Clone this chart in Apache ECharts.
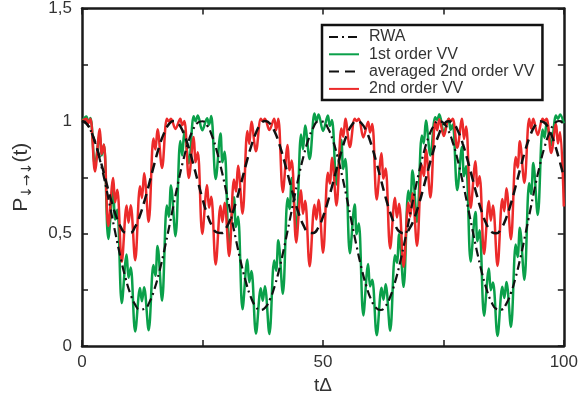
<!DOCTYPE html>
<html>
<head>
<meta charset="utf-8">
<script src="https://cdn.jsdelivr.net/npm/echarts@6/dist/echarts.min.js"></script>
<style>
html,body{margin:0;padding:0;background:#fff;}
#chart{width:581px;height:405px;}
</style>
</head>
<body>
<div id="chart"></div>
<script>
// smooth curves sampled at integer tΔ
var tGrid = [0,1,2,3,4,5,6,7,8,9,10,11,12,13,14,15,16,17,18,19,20,21,22,23,24,25,26,27,28,29,30,31,32,33,34,35,36,37,38,39,40,41,42,43,44,45,46,47,48,49,50,51,52,53,54,55,56,57,58,59,60,61,62,63,64,65,66,67,68,69,70,71,72,73,74,75,76,77,78,79,80,81,82,83,84,85,86,87,88,89,90,91,92,93,94,95,96,97,98,99,100];
var yRWA = [1.000,.987,.947,.884,.801,.705,.600,.494,.393,.305,.234,.185,.162,.165,.195,.250,.326,.418,.520,.627,.730,.824,.902,.959,.992,.999,.979,.933,.865,.778,.679,.573,.468,.370,.286,.220,.177,.160,.170,.207,.267,.347,.443,.547,.653,.755,.845,.918,.970,.997,.997,.970,.918,.845,.755,.653,.547,.443,.347,.267,.207,.170,.160,.177,.220,.286,.370,.468,.573,.679,.778,.865,.933,.979,.999,.992,.959,.902,.824,.730,.627,.520,.418,.326,.250,.195,.165,.162,.185,.234,.305,.393,.494,.600,.705,.801,.884,.947,.987,1.000,.987];
var yAveraged2nd = [1.000,.987,.948,.887,.812,.730,.651,.582,.531,.504,.503,.529,.579,.647,.726,.808,.884,.945,.985,1.000,.988,.950,.891,.816,.735,.655,.585,.533,.505,.502,.527,.576,.643,.722,.804,.880,.942,.984,1.000,.989,.952,.894,.820,.739,.658,.588,.535,.505,.502,.525,.573,.640,.718,.800,.877,.940,.982,1.000,.990,.955,.898,.824,.743,.662,.591,.537,.506,.501,.523,.570,.636,.714,.796,.873,.937,.981,.999,.991,.957,.901,.828,.747,.666,.594,.539,.507,.501,.522,.567,.632,.710,.792,.870,.934,.979,.999,.992,.959,.904,.832,.751];

// fast-oscillating curves sampled at their turning points
var tFast = [0,
0.9,1.3,1.75,
2.69,3.69,4.09,4.54,
5.47,6.47,6.87,7.32,
8.26,9.26,9.66,10.11,
11.04,12.04,12.44,12.89,
13.83,14.83,15.23,15.68,
16.61,17.61,18.01,18.46,
19.4,20.4,20.8,21.25,
22.18,23.18,23.58,24.03,
24.97,25.97,26.37,26.82,
27.75,28.75,29.15,29.6,
30.54,31.54,31.94,32.39,
33.32,34.32,34.72,35.17,
36.11,37.11,37.51,37.96,
38.89,39.89,40.29,40.74,
41.68,42.68,43.08,43.53,
44.46,45.46,45.86,46.31,
47.25,48.25,48.65,49.1,
50.03,51.03,51.43,51.88,
52.82,53.82,54.22,54.67,
55.6,56.6,57,57.45,
58.39,59.39,59.79,60.24,
61.17,62.17,62.57,63.02,
63.96,64.96,65.36,65.81,
66.74,67.74,68.14,68.59,
69.53,70.53,70.93,71.38,
72.31,73.31,73.71,74.16,
75.1,76.1,76.5,76.95,
77.88,78.88,79.28,79.73,
80.67,81.67,82.07,82.52,
83.45,84.45,84.85,85.3,
86.24,87.24,87.64,88.09,
89.02,90.02,90.42,90.87,
91.81,92.81,93.21,93.66,
94.59,95.59,95.99,96.44,
97.38,98.38,98.78,99.23,
100];
var yFirstOrder = [1.0,
1.02,.996,1.013,
.804,.939,.847,.894,
.476,.694,.562,.606,
.191,.407,.303,.349,
.064,.258,.199,.261,
.070,.360,.312,.445,
.202,.624,.575,.713,
.488,.911,.847,.955,
.812,1.021,.999,1.024,
.959,1.012,.983,1.022,
.742,.944,.817,.863,
.442,.661,.529,.574,
.163,.385,.283,.333,
.055,.257,.201,.266,
.053,.380,.335,.470,
.232,.657,.609,.747,
.520,.940,.874,.980,
.831,1.033,.999,1.029,
.956,1.024,.978,1.004,
.718,.916,.787,.831,
.412,.629,.497,.544,
.136,.364,.265,.294,
.048,.259,.206,.274,
.068,.403,.370,.497,
.263,.690,.642,.780,
.551,.936,.901,1.002,
.847,1.017,1.005,1.030,
.949,1.010,.960,.985,
.693,.885,.755,.799,
.376,.596,.466,.514,
.135,.345,.248,.282,
.045,.263,.213,.285,
.085,.451,.396,.526,
.294,.723,.676,.813,
.582,.962,.925,.992,
.892,1.024,1.009,1.029,
.99];
var ySecondOrder = [1.0,
1.01,.99,1.01,
.776,.964,.853,.896,
.533,.747,.639,.694,
.374,.624,.548,.626,
.381,.710,.657,.768,
.552,.922,.873,.963,
.791,1.01,.998,1.01,
.965,1.01,.982,1.0,
.747,.929,.817,.861,
.498,.715,.614,.663,
.362,.623,.551,.637,
.400,.740,.687,.801,
.588,.956,.898,.997,
.866,1.01,1.0,1.01,
.960,1.01,.959,1.01,
.684,.893,.781,.824,
.460,.692,.587,.646,
.354,.628,.562,.650,
.415,.770,.722,.837,
.625,.967,.930,1.01,
.885,1.01,1.0,1.01,
.927,.997,.949,.987,
.651,.857,.744,.789,
.433,.659,.571,.632,
.352,.637,.575,.679,
.445,.805,.756,.873,
.660,.997,.959,1.008,
.933,1.01,1.0,1.01,
.881,1.01,.920,.976,
.614,.821,.709,.755,
.409,.645,.557,.625,
.356,.653,.599,.701,
.474,.840,.793,.910,
.725,1.01,.967,1.01,
.938,1.01,1.0,1.01,
.858,.987,.900,.950,
.62];

var legendNames = ['RWA','1st order VV','averaged 2nd order VV','2nd order VV'];

function pairs(xs, ys){ return xs.map(function(x,i){ return [x, ys[i]]; }); }

var FONT = 'Liberation Sans';
var AX = '#1a1a1a';
var axisLine = {show:true, onZero:false, lineStyle:{color:AX, width:2.5}};
var axisTick = {show:true, inside:true, length:6, lineStyle:{color:AX, width:1.5}};

var chart = echarts.init(document.getElementById('chart'), null, {renderer:'canvas'});
chart.setOption({
  animation:false,
  backgroundColor:'#fff',
  textStyle:{fontFamily:FONT},
  grid:{left:82, right:16, top:8, bottom:59, containLabel:false},
  legend:{
    data:legendNames,
    orient:'vertical', left:322, top:25,
    itemWidth:30, itemHeight:13, itemGap:1.3,
    padding:[4,8,3,6],
    borderColor:'#111', borderWidth:2.5, backgroundColor:'#fff',
    itemStyle:{opacity:0, borderWidth:0},
    textStyle:{fontFamily:FONT, fontSize:16, color:'#333', padding:[0,0,0,5]}
  },
  xAxis:[
    {type:'value', min:0, max:100, interval:25, position:'bottom',
     axisLine:axisLine, axisTick:axisTick, splitLine:{show:false},
     axisLabel:{fontFamily:FONT, fontSize:17, color:'#333', margin:8,
       formatter:function(v){ return v % 50 === 0 ? String(v) : ''; }},
     name:'tΔ', nameLocation:'middle', nameGap:27,
     nameTextStyle:{fontFamily:FONT, fontSize:19, color:'#333'}},
    {type:'value', min:0, max:100, interval:25, position:'top',
     axisLine:axisLine, axisTick:axisTick, splitLine:{show:false}, axisLabel:{show:false}}
  ],
  yAxis:[
    {type:'value', min:0, max:1.5, interval:0.25, position:'left',
     axisLine:axisLine, axisTick:axisTick, splitLine:{show:false},
     axisLabel:{fontFamily:FONT, fontSize:17, color:'#333', margin:10,
       formatter:function(v){ return Math.abs(v*2 - Math.round(v*2)) < 1e-9 ? String(v).replace('.', ',') : ''; }},
     name:'{a|P}{b|↓→↓}{a|(t)}', nameLocation:'middle', nameGap:48,
     nameTextStyle:{fontFamily:FONT, color:'#333',
       rich:{a:{fontSize:21, fontFamily:FONT, color:'#333'},
             b:{fontSize:14, fontFamily:'DejaVu Sans', color:'#333', padding:[12,0,0,0]}}}},
    {type:'value', min:0, max:1.5, interval:0.25, position:'right',
     axisLine:axisLine, axisTick:axisTick, splitLine:{show:false}, axisLabel:{show:false}}
  ],
  series:[
    {name:'1st order VV', type:'line', data:pairs(tFast, yFirstOrder), symbol:'none', smooth:0.35,
     lineStyle:{color:'#0aa04a', width:2.5}, itemStyle:{color:'#0aa04a'}, z:2},
    {name:'2nd order VV', type:'line', data:pairs(tFast, ySecondOrder), symbol:'none', smooth:0.35,
     lineStyle:{color:'#ec2a2a', width:2.5}, itemStyle:{color:'#ec2a2a'}, z:3},
    {name:'averaged 2nd order VV', type:'line', data:pairs(tGrid, yAveraged2nd), symbol:'none', smooth:true,
     lineStyle:{color:'#111', width:2.5, type:[10,6]}, itemStyle:{color:'#111'}, z:4},
    {name:'RWA', type:'line', data:pairs(tGrid, yRWA), symbol:'none', smooth:true,
     lineStyle:{color:'#111', width:2.2, type:[9,4,2,4]}, itemStyle:{color:'#111'}, z:5}
  ]
});
</script>
</body>
</html>
